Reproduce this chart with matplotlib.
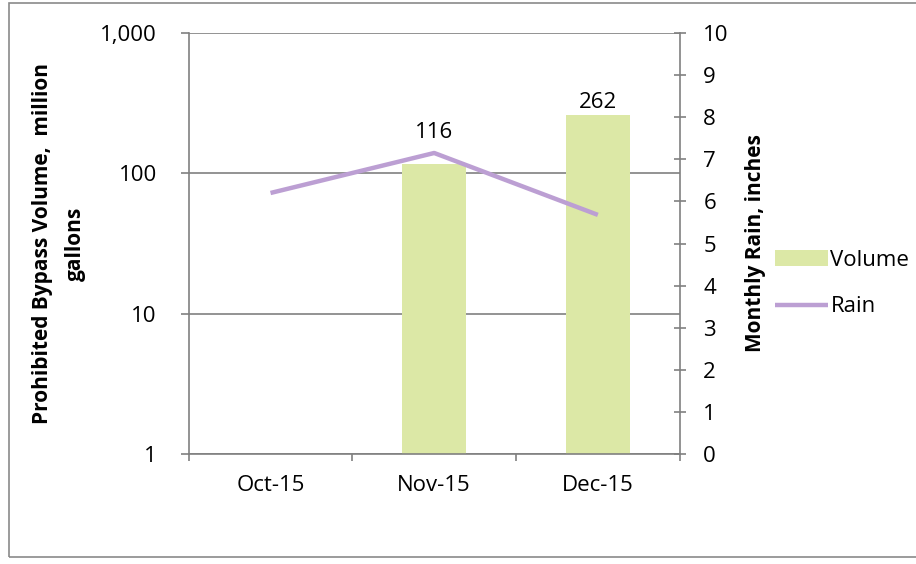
import numpy as np
import matplotlib
matplotlib.use('Agg')
import matplotlib.pyplot as plt
from matplotlib.patches import Rectangle
from matplotlib.ticker import FixedLocator, FuncFormatter

plt.rcParams['font.family'] = ['Open Sans', 'DejaVu Sans']

# data
months = ['Oct-15', 'Nov-15', 'Dec-15']
volume = [0, 116, 262]          # million gallons
rain = [6.2, 7.15, 5.68]        # inches

bar_color = '#DCE8A6'
line_color = '#BC9FD3'
axis_color = '#808080'
fs = 16

fig = plt.figure(figsize=(9.16, 5.64), dpi=100)
ax = fig.add_axes([0.206, 0.195, 0.536, 0.7465])

# outer chart frame
fig.patches.append(Rectangle((0.0095, 0.012), 1.2, 0.982, transform=fig.transFigure,
                             fill=False, edgecolor='#8a8a8a', linewidth=1.2))

x = np.arange(len(months))
ax.set_yscale('log')
ax.set_ylim(1, 1000)
ax.set_xlim(-0.5, 2.5)
bars = ax.bar(x, volume, width=0.39, color=bar_color, zorder=2, label='Volume')
# data labels (Excel had the Nov label nudged above the rain line)
label_offsets = [0, 14, 0]
for xi, v, off in zip(x, volume, label_offsets):
    if v > 0:
        ax.annotate(str(v), (xi, v), xytext=(0, off + 1), textcoords='offset points',
                    ha='center', va='bottom', fontsize=fs)

ax.yaxis.set_major_locator(FixedLocator([1, 10, 100, 1000]))
ax.yaxis.set_minor_locator(FixedLocator([]))
ax.yaxis.set_major_formatter(FuncFormatter(lambda v, p: '{:,.0f}'.format(v)))
ax.grid(axis='y', color=axis_color, linewidth=1.2, zorder=1)
ax.set_axisbelow(True)

ax.set_xticks(x)
ax.set_xticklabels(months)
ax.xaxis.set_minor_locator(FixedLocator([-0.5, 0.5, 1.5, 2.5]))
ax.tick_params(axis='x', which='major', length=0, pad=15, labelsize=fs)
ax.tick_params(axis='x', which='minor', length=5, width=1.2, color=axis_color, direction='out')
ax.tick_params(axis='y', length=6, width=1.2, color=axis_color, direction='out', labelsize=fs, pad=17)

for side in ['top', 'right']:
    ax.spines[side].set_visible(False)
for side in ['left', 'bottom']:
    ax.spines[side].set_color(axis_color)
    ax.spines[side].set_linewidth(1.2)

ax.set_ylabel('Prohibited Bypass Volume,  million\ngallons', fontsize=15,
              fontweight='bold', labelpad=10, linespacing=1.75)

ax2 = ax.twinx()
ax2.set_ylim(0, 10)
ax2.set_yticks(range(0, 11))
ax2.plot(x, rain, color=line_color, linewidth=3.2, solid_capstyle='butt', label='Rain', zorder=3)
ax2.tick_params(axis='y', length=8, width=1.2, color=axis_color, direction='inout', labelsize=fs, pad=13)
for side in ['top', 'left', 'bottom']:
    ax2.spines[side].set_visible(False)
ax2.spines['right'].set_color(axis_color)
ax2.spines['right'].set_linewidth(1.2)
ax2.set_ylabel('Monthly Rain, inches', fontsize=15, fontweight='bold', labelpad=12)

handles = [bars, ax2.get_lines()[0]]
fig.legend(handles, ['Volume', 'Rain'], loc='center left', bbox_to_anchor=(0.846, 0.497),
           frameon=False, fontsize=fs, handlelength=2.4, handletextpad=0.1,
           labelspacing=1.15, borderaxespad=0, borderpad=0)

fig.savefig('out.png', dpi=100)
